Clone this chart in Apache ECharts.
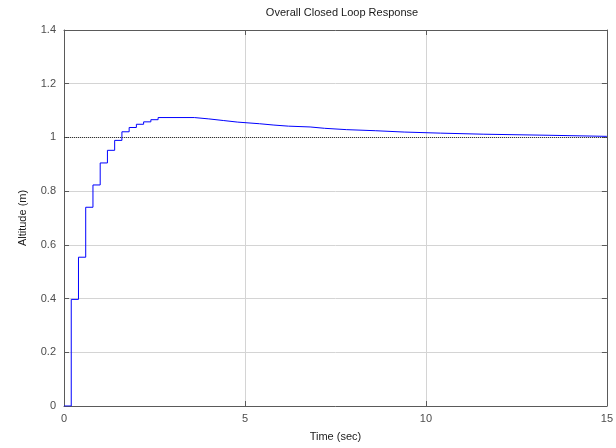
<!DOCTYPE html>
<html>
<head>
<meta charset="utf-8">
<script src="https://cdn.jsdelivr.net/npm/echarts@6/dist/echarts.min.js"></script>
<style>
  html, body { margin: 0; padding: 0; background: #fff; }
  #chart { width: 616px; height: 448px; }
</style>
</head>
<body>
<div id="chart"></div>
<script>
// Sampled step response (zero-order hold): each level holds from its time to the next one.
const times = [0, 0.2, 0.4, 0.6, 0.8, 1.0, 1.2, 1.4, 1.6, 1.8, 2.0, 2.2, 2.4, 2.6,
  3.6, 4.0, 4.4, 4.8, 5.4, 5.8, 6.2, 6.8, 7.2, 7.8, 8.6, 9.4, 10.4, 11.6, 13.4, 15];
const altitude = [0, 0.397, 0.554, 0.740, 0.823, 0.905, 0.952, 0.989, 1.021, 1.037, 1.049, 1.058, 1.066, 1.074,
  1.069, 1.063, 1.057, 1.051, 1.046, 1.042, 1.039, 1.034, 1.029, 1.025, 1.020, 1.016, 1.012, 1.008, 1.004, 1.004];
const setpoint = 1;
const xTicks = [0, 5, 10, 15];
const yTicks = [0, 0.2, 0.4, 0.6, 0.8, 1, 1.2, 1.4];

const FONT = '"Liberation Sans", Arial, sans-serif';
const AXIS_COLOR = '#5a5a5a';
const LABEL_COLOR = '#4d4d4d';
const GRID_COLOR = '#d4d4d4';

const chart = echarts.init(document.getElementById('chart'), null, { renderer: 'canvas' });

const baseX = {
  type: 'value', min: xTicks[0], max: xTicks[xTicks.length - 1], interval: 5,
  axisLine: { show: true, onZero: false, lineStyle: { color: AXIS_COLOR, width: 1 } },
  axisTick: { show: true, inside: true, length: 5, lineStyle: { color: AXIS_COLOR } }
};
const baseY = {
  type: 'value', min: yTicks[0], max: yTicks[yTicks.length - 1], interval: 0.2,
  axisLine: { show: true, onZero: false, lineStyle: { color: AXIS_COLOR, width: 1 } },
  axisTick: { show: true, inside: true, length: 5, lineStyle: { color: AXIS_COLOR } }
};

chart.setOption({
  animation: false,
  backgroundColor: '#fff',
  title: {
    text: 'Overall Closed Loop Response',
    left: 337, top: 2, textAlign: 'center',
    textStyle: { fontFamily: FONT, fontSize: 11, fontWeight: 'normal', color: '#1a1a1a' }
  },
  grid: { left: 64, right: 6, top: 30, bottom: 42, containLabel: false },
  xAxis: [
    Object.assign({}, baseX, {
      position: 'bottom',
      name: 'Time (sec)', nameLocation: 'middle', nameGap: 25,
      nameTextStyle: { fontFamily: FONT, fontSize: 11, color: '#1a1a1a' },
      axisLabel: { show: true, fontFamily: FONT, fontSize: 11, color: LABEL_COLOR, margin: 7,
        formatter: v => String(v) },
      splitLine: { show: true, lineStyle: { color: GRID_COLOR, width: 1 } }
    }),
    Object.assign({}, baseX, {
      position: 'top',
      axisLabel: { show: false },
      splitLine: { show: false }
    })
  ],
  yAxis: [
    Object.assign({}, baseY, {
      position: 'left',
      name: 'Altitude (m)', nameLocation: 'middle', nameGap: 36,
      nameTextStyle: { fontFamily: FONT, fontSize: 11, color: '#1a1a1a' },
      axisLabel: { show: true, fontFamily: FONT, fontSize: 11, color: LABEL_COLOR, margin: 8,
        formatter: v => String(Math.round(v * 10) / 10) },
      splitLine: { show: true, lineStyle: { color: GRID_COLOR, width: 1 } }
    }),
    Object.assign({}, baseY, {
      position: 'right',
      axisLabel: { show: false },
      splitLine: { show: false }
    })
  ],
  series: [
    {
      type: 'line',
      step: 'end',
      data: times.map((t, i) => [t, altitude[i]]),
      showSymbol: false,
      symbol: 'none',
      lineStyle: { color: '#0000ff', width: 1 },
      z: 3,
      markLine: {
        silent: true,
        symbol: 'none',
        label: { show: false },
        lineStyle: { color: '#333', width: 1, type: [1, 1] },
        data: [{ yAxis: setpoint }]
      }
    }
  ]
});
</script>
</body>
</html>
